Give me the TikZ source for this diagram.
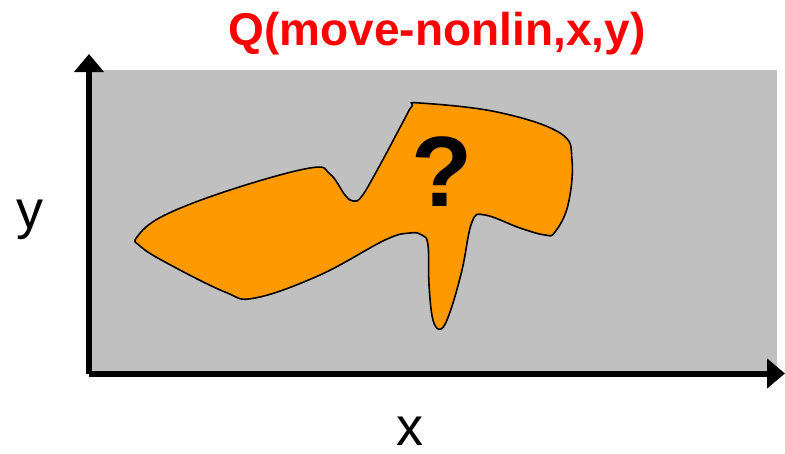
\documentclass[tikz,border=0pt]{standalone}
\usepackage{fontspec}
\setmainfont{Liberation Sans}
\usetikzlibrary{arrows.meta,positioning}
\definecolor{qgray}{HTML}{C0C0C0}
\definecolor{qorange}{HTML}{FF9900}
\tikzset{
  every picture/.style={x=1pt,y=-1pt},
  qaxis/.style={line width=6pt, -{Triangle[length=18pt,width=29pt]}},
  qblob/.style={draw=black, line width=1.6pt, fill=qorange},
  qtitle/.style={text=red, font=\fontsize{46}{50}\selectfont\bfseries, inner sep=0pt},
  qlabel/.style={font=\fontsize{54}{58}\selectfont, inner sep=0pt},
}

\begin{document}
\begin{tikzpicture}
  \useasboundingbox (0,0) rectangle (785,453);
  \fill[qgray] (90,70) rectangle (777,373);
  \coordinate (O) at (89,373.5);
  \coordinate (ytip) at (89,54);
  \coordinate (xtip) at (785,373.5);
  % region of unknown shape
  \draw[qblob] plot[smooth cycle, tension=0.65] coordinates {
    (137,237) (163,216) (230,190) (310,168) (330,174) (345,195) (353,201)
    (362,196) (380,165) (404,120) (412,106) (420,103) (497,112) (560,133)
    (572,160) (568,205) (555,232) (545,235) (520,228) (485,215) (472,222)
    (462,270) (450,312) (441,329) (433,320) (429,285) (428,245) (422,235)
    (410,233) (385,240) (320,275) (255,298) (225,292) (165,262) (140,246)};
  \node[font=\fontsize{100}{100}\selectfont\bfseries, inner sep=0pt] (q) at (442,172) {?};
  % axes
  \draw[qaxis] (O) -- (ytip);
  \draw[qaxis] (O) -- (xtip);
  \node[qlabel, anchor=base] (ylab) at (30,228) {y};
  \node[qlabel, anchor=base] (xlab) at (410,445) {x};
  \node[qtitle, anchor=base] (title) at (437,45) {Q(move-nonlin,x,y)};
\end{tikzpicture}
\end{document}
